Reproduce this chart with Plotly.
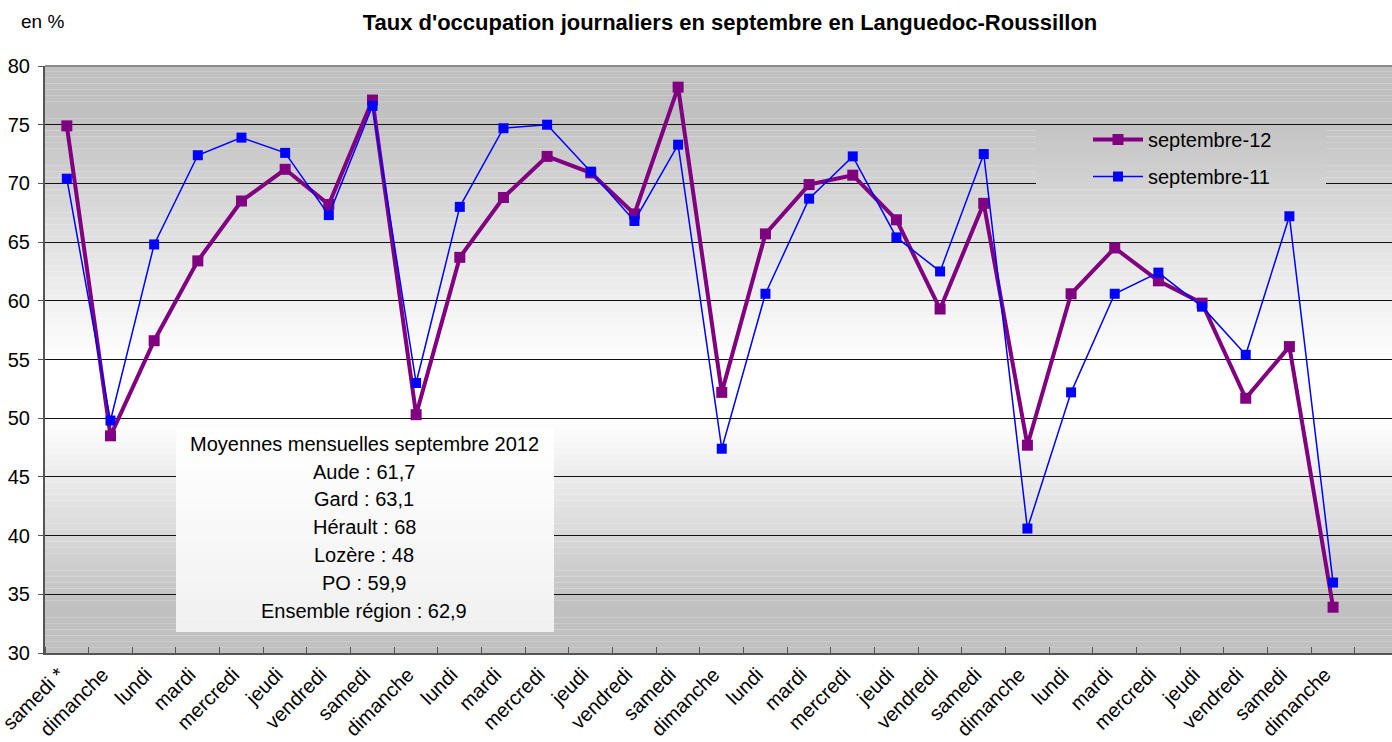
import plotly.graph_objects as go

days = ["samedi *", "dimanche", "lundi", "mardi", "mercredi", "jeudi", "vendredi",
        "samedi", "dimanche", "lundi", "mardi", "mercredi", "jeudi", "vendredi",
        "samedi", "dimanche", "lundi", "mardi", "mercredi", "jeudi", "vendredi",
        "samedi", "dimanche", "lundi", "mardi", "mercredi", "jeudi", "vendredi",
        "samedi", "dimanche"]

sept12 = [74.9, 48.5, 56.6, 63.4, 68.5, 71.2, 68.2, 77.1, 50.3, 63.7, 68.8, 72.3, 70.9, 67.4,
          78.2, 52.2, 65.7, 69.9, 70.7, 66.9, 59.3, 68.3, 47.7, 60.6, 64.5, 61.7, 59.8, 51.7,
          56.1, 33.9]
sept11 = [70.4, 49.8, 64.8, 72.4, 73.9, 72.6, 67.3, 76.6, 53.0, 68.0, 74.7, 75.0, 71.0, 66.8,
          73.3, 47.4, 60.6, 68.7, 72.3, 65.4, 62.5, 72.5, 40.6, 52.2, 60.6, 62.4, 59.5, 55.4,
          67.2, 36.0]

box_lines = ["Moyennes mensuelles septembre 2012", "Aude : 61,7", "Gard : 63,1",
             "Hérault : 68", "Lozère : 48", "PO : 59,9", "Ensemble région : 62,9"]

title = "Taux d'occupation journaliers en septembre en Languedoc-Roussillon"
unit = "en %"

# body margin removed via post_script, so figure pixels == page pixels
W, H = 1392, 742
P_LEFT, P_TOP, P_BOTTOM, P_RIGHT = 45, 66, 653, 1392
L, T, B, R = P_LEFT, P_TOP, H - P_BOTTOM, W - P_RIGHT
PW, PH = W - L - R, H - T - B
YMIN, YMAX = 30, 80
FONT = "Liberation Sans, Arial, sans-serif"

def px_x(x):
    return (x - P_LEFT) / PW

def px_y(y):
    return (P_BOTTOM - y) / PH

def v_of_py(y):
    return YMAX - (y - P_TOP) / PH * (YMAX - YMIN)

def grey(v):
    if v >= 76:
        g = 192
    elif v >= 55:
        g = 192 + (76 - v) / 21 * 63
    elif v >= 50:
        g = 255
    elif v >= 34:
        g = 255 - (50 - v) / 16 * 63
    else:
        g = 192
    g = int(round(g))
    return f"rgb({g},{g},{g})"

x = list(range(len(days)))

fig = go.Figure()
fig.add_trace(go.Scatter(x=x, y=sept12, mode="lines+markers", name="septembre-12",
                         legendgroup="a",
                         line=dict(color="#800080", width=4),
                         marker=dict(symbol="square", size=11, color="#800080")))
fig.add_trace(go.Scatter(x=x, y=sept11, mode="lines+markers", name="septembre-11",
                         legendgroup="b",
                         line=dict(color="#0000ff", width=1.5),
                         marker=dict(symbol="square", size=10, color="#0000ff")))

shapes = []
step = 0.5
v = YMIN
while v < YMAX:
    shapes.append(dict(type="rect", xref="paper", yref="y", x0=0, x1=1, y0=v, y1=v + step,
                       fillcolor=grey(v + step / 2), line=dict(width=0), layer="below"))
    v += step

# legend background (hides gridlines)
lx0, lx1, ly0, ly1 = 1036, 1326, 126, 184
n = 12
for i in range(n):
    ya = ly0 + (ly1 - ly0) * i / n
    yb = ly0 + (ly1 - ly0) * (i + 1) / n
    shapes.append(dict(type="rect", xref="paper", yref="paper", x0=px_x(lx0), x1=px_x(lx1),
                       y0=px_y(yb), y1=px_y(ya) + 0.001, fillcolor=grey(v_of_py((ya + yb) / 2)),
                       line=dict(width=0), layer="above"))

# text box
bx0, bx1, by0, by1 = 176, 554, 428, 632
n = 20
for i in range(n):
    ya = by0 + (by1 - by0) * i / n
    yb = by0 + (by1 - by0) * (i + 1) / n
    g = int(round(255 - 14 * (i / (n - 1))))
    shapes.append(dict(type="rect", xref="paper", yref="paper", x0=px_x(bx0), x1=px_x(bx1),
                       y0=px_y(yb), y1=px_y(ya) + 0.001, fillcolor=f"rgb({g},{g},{g})",
                       line=dict(width=0), layer="above"))

shapes.append(dict(type="line", xref="paper", yref="paper", x0=0, x1=1, y0=1, y1=1,
                   line=dict(color="#8a8a8a", width=2), layer="above"))

annotations = []
line_y = [444, 472, 499, 527, 555, 583, 611]
for txt, yy in zip(box_lines, line_y):
    annotations.append(dict(text=txt, xref="paper", yref="paper", x=px_x(364), y=px_y(yy),
                            xanchor="center", yanchor="middle", showarrow=False,
                            font=dict(family=FONT, size=20, color="black")))
annotations.append(dict(text=unit, xref="paper", yref="paper", x=px_x(19), y=px_y(22),
                        xanchor="left", yanchor="middle", showarrow=False,
                        font=dict(family=FONT, size=19, color="black")))

fig.update_layout(
    width=W, height=H, autosize=False,
    margin=dict(l=L, r=R, t=T, b=B, autoexpand=False),
    paper_bgcolor="white", plot_bgcolor="white",
    title=dict(text="<b>" + title + "</b>", x=730 / W, xref="container", xanchor="center",
               y=1 - 22 / H, yref="container", yanchor="middle",
               font=dict(family=FONT, size=22, color="black")),
    font=dict(family=FONT, color="black"),
    showlegend=True,
    legend=dict(x=px_x(1088), y=px_y(120), xanchor="left", yanchor="top",
                bgcolor="rgba(0,0,0,0)", borderwidth=0, traceorder="grouped",
                tracegroupgap=8, itemwidth=50,
                font=dict(family=FONT, size=20, color="black")),
    xaxis=dict(range=[-0.5, 30.35], tickmode="array", tickvals=x, ticktext=days,
               tickangle=-45, ticks="", showgrid=False, zeroline=False,
               showline=True, linecolor="#555555", linewidth=2,
               ticklabeloverflow="allow", ticklabelshift=-8,
               tickfont=dict(family=FONT, size=20, color="black"),
               minor=dict(tick0=-0.5, dtick=1, ticks="inside", ticklen=6,
                          tickcolor="#555555", tickwidth=1, showgrid=False)),
    yaxis=dict(range=[YMIN, YMAX], dtick=5, tick0=30, ticks="outside", ticklen=5,
               tickcolor="#555555", showline=True, linecolor="#555555", linewidth=2,
               showgrid=True, gridcolor="#111111", gridwidth=1, zeroline=False,
               ticklabelstandoff=4,
               tickfont=dict(family=FONT, size=20, color="black")),
    shapes=shapes, annotations=annotations,
)

fig.write_html("out.html", config={"displayModeBar": False},
               post_script="document.body.style.margin='0';document.body.style.overflow='hidden';")
